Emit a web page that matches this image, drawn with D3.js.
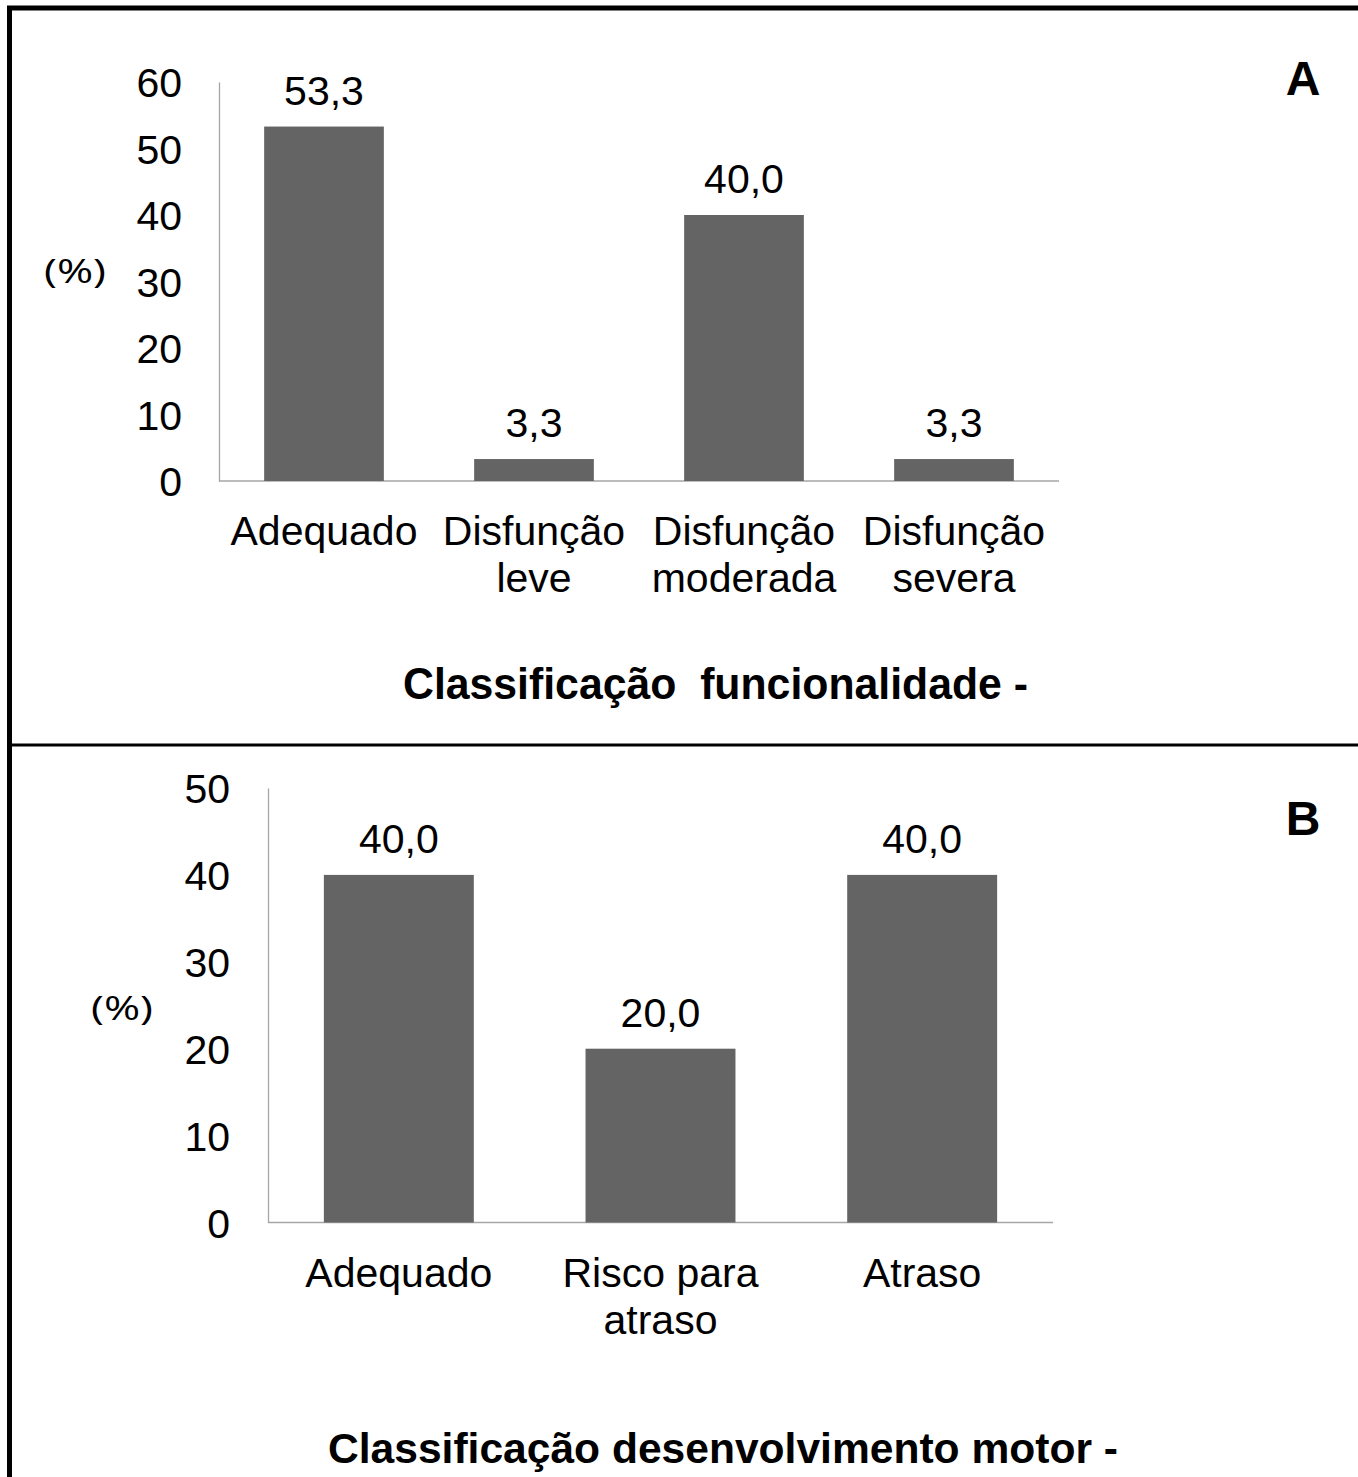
<!DOCTYPE html>
<html>
<head>
<meta charset="utf-8">
<script src="https://cdn.jsdelivr.net/npm/d3@7"></script>
<style>
  body { margin: 0; background: #fff; }
  svg text { font-family: "Liberation Sans", Arial, sans-serif; }
</style>
</head>
<body>
<div id="chart"></div>
<script>
// panel A
const catsA = [["Adequado"], ["Disfunção", "leve"], ["Disfunção", "moderada"], ["Disfunção", "severa"]];
const valsA = [53.3, 3.3, 40.0, 3.3];
const ticksA = [0, 10, 20, 30, 40, 50, 60];

// panel B
const catsB = [["Adequado"], ["Risco para", "atraso"], ["Atraso"]];
const valsB = [40.0, 20.0, 40.0];
const ticksB = [0, 10, 20, 30, 40, 50];

const svg = d3.select("#chart")
    .append("svg")
    .attr("width", 1358)
    .attr("height", 1477);

// frame
svg.append("line").attr("x1", 7).attr("x2", 1358).attr("y1", 8).attr("y2", 8)
    .attr("stroke", "#000").attr("stroke-width", 5);
svg.append("line").attr("x1", 9.5).attr("x2", 9.5).attr("y1", 6).attr("y2", 1477)
    .attr("stroke", "#000").attr("stroke-width", 5);
svg.append("line").attr("x1", 9).attr("x2", 1358).attr("y1", 745).attr("y2", 745)
    .attr("stroke", "#000").attr("stroke-width", 3);

function fmt(v) { return v.toFixed(1).replace(".", ","); }

function drawPanel(cfg) {
    const g = svg.append("g");
    const x = d3.scaleBand()
        .domain(cfg.cats.map((c, i) => i))
        .range([cfg.x0, cfg.x1])
        .paddingInner(cfg.pad)
        .paddingOuter(cfg.pad / 2);
    const y = d3.scaleLinear()
        .domain([0, d3.max(cfg.ticks)])
        .range([cfg.y0, cfg.y1]);

    const yAxis = d3.axisLeft(y)
        .tickValues(cfg.ticks)
        .tickSize(0)
        .tickPadding(cfg.tickPad)
        .tickFormat(d3.format("d"));
    const ay = g.append("g")
        .attr("transform", "translate(" + cfg.x0 + ",0)")
        .call(yAxis);
    ay.select(".domain").attr("stroke", "#a6a6a6").attr("stroke-width", 1.3);
    ay.selectAll("text").style("font-size", "41px").attr("fill", "#000").attr("dy", "0.36em");

    g.append("line")
        .attr("x1", cfg.x0).attr("x2", cfg.x1)
        .attr("y1", cfg.y0).attr("y2", cfg.y0)
        .attr("stroke", "#a6a6a6").attr("stroke-width", 1.3);

    g.selectAll("rect.bar")
        .data(cfg.vals)
        .join("rect")
        .attr("class", "bar")
        .attr("x", (d, i) => x(i))
        .attr("width", x.bandwidth())
        .attr("y", d => y(d))
        .attr("height", d => y(0) - y(d))
        .attr("fill", "#646464");

    g.selectAll("text.val")
        .data(cfg.vals)
        .join("text")
        .attr("class", "val")
        .attr("x", (d, i) => x(i) + x.bandwidth() / 2)
        .attr("y", d => y(d) - 22)
        .attr("text-anchor", "middle")
        .style("font-size", "41px")
        .text(d => fmt(d));

    cfg.cats.forEach(function (lines, i) {
        const t = g.append("text")
            .attr("text-anchor", "middle")
            .style("font-size", "41px");
        lines.forEach(function (l, j) {
            t.append("tspan")
                .attr("x", x(i) + x.bandwidth() / 2)
                .attr("y", cfg.labelY + j * 47)
                .text(l);
        });
    });

    g.append("text")
        .attr("x", cfg.pctX).attr("y", cfg.pctY)
        .attr("textLength", 62)
        .attr("lengthAdjust", "spacingAndGlyphs")
        .style("font-family", "'Open Sans', sans-serif")
        .style("font-size", "33px")
        .text("(%)");

    g.append("text")
        .attr("x", 1303).attr("y", cfg.letterY)
        .attr("text-anchor", "middle")
        .style("font-size", "48px")
        .style("font-weight", "bold")
        .text(cfg.letter);

    g.append("text")
        .attr("x", cfg.titleX).attr("y", cfg.titleY)
        .attr("textLength", cfg.titleW)
        .attr("lengthAdjust", "spacingAndGlyphs")
        .style("font-size", cfg.titleSize + "px")
        .style("font-weight", "bold")
        .style("white-space", "pre")
        .text(cfg.title);
}

drawPanel({
    cats: catsA, vals: valsA, ticks: ticksA,
    x0: 219, x1: 1059, y0: 481, y1: 82, pad: 0.43, tickPad: 37,
    labelY: 545, pctX: 44, pctY: 283,
    letter: "A", letterY: 95,
    title: "Classificação  funcionalidade -", titleX: 403, titleY: 699, titleW: 625, titleSize: 45
});

drawPanel({
    cats: catsB, vals: valsB, ticks: ticksB,
    x0: 268, x1: 1053, y0: 1222.5, y1: 788, pad: 0.427, tickPad: 38,
    labelY: 1287, pctX: 91, pctY: 1020,
    letter: "B", letterY: 835,
    title: "Classificação desenvolvimento motor -", titleX: 328, titleY: 1463, titleW: 790, titleSize: 42
});
</script>
</body>
</html>
